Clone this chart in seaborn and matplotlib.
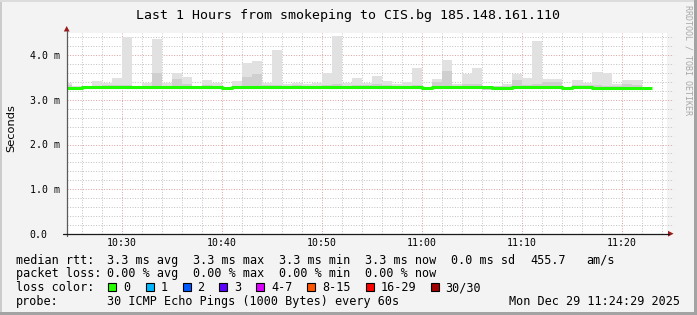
import matplotlib
matplotlib.use("Agg")
import matplotlib.pyplot as plt
import matplotlib.transforms as mtrans
from matplotlib.patches import Rectangle, Polygon
from matplotlib.lines import Line2D
import numpy as np
import pandas as pd
import seaborn as sns

# ---------------- data ----------------
# minutes after 10:00 (10:24 ... 11:22), one smoke bar per minute
minutes = list(range(24, 83))
smoke_max = [3.39, 3.32, 3.32, 3.42, 3.39, 3.49, 4.40, 3.32, 3.39, 4.36,
             3.39, 3.60, 3.51, 3.32, 3.44, 3.38, 3.29, 3.42, 3.82, 3.87,
             3.39, 4.13, 3.35, 3.38, 3.35, 3.39, 3.60, 4.43, 3.38, 3.48,
             3.38, 3.53, 3.42, 3.35, 3.40, 3.72, 3.30, 3.46, 3.89, 3.36,
             3.59, 3.72, 3.32, 3.32, 3.35, 3.59, 3.48, 4.31, 3.46, 3.46,
             3.29, 3.44, 3.38, 3.62, 3.60, 3.36, 3.44, 3.44, 3.30]
smoke_inner = [3.33, 3.30, 3.31, 3.32, 3.33, 3.33, 3.34, 3.30, 3.31, 3.60,
               3.31, 3.47, 3.36, 3.31, 3.33, 3.32, 3.28, 3.32, 3.52, 3.58,
               3.33, 3.34, 3.32, 3.33, 3.31, 3.32, 3.33, 3.36, 3.32, 3.34,
               3.33, 3.35, 3.33, 3.31, 3.32, 3.34, 3.30, 3.40, 3.64, 3.31,
               3.35, 3.36, 3.30, 3.31, 3.31, 3.45, 3.34, 3.35, 3.40, 3.40,
               3.28, 3.33, 3.34, 3.33, 3.32, 3.31, 3.36, 3.34, 3.29]
smoke_min = [3.24, 3.23, 3.24, 3.24, 3.24, 3.24, 3.24, 3.24, 3.24, 3.25,
             3.24, 3.25, 3.25, 3.24, 3.24, 3.24, 3.22, 3.24, 3.24, 3.24,
             3.24, 3.24, 3.24, 3.24, 3.24, 3.24, 3.25, 3.25, 3.24, 3.24,
             3.24, 3.24, 3.24, 3.24, 3.24, 3.24, 3.23, 3.24, 3.24, 3.24,
             3.24, 3.24, 3.23, 3.23, 3.24, 3.24, 3.24, 3.24, 3.24, 3.24,
             3.23, 3.24, 3.24, 3.24, 3.24, 3.23, 3.24, 3.24, 3.23]
median_rtt = [3.27, 3.27, 3.29, 3.29, 3.29, 3.29, 3.29, 3.28, 3.28, 3.30,
              3.28, 3.30, 3.30, 3.29, 3.29, 3.29, 3.26, 3.29, 3.28, 3.28,
              3.28, 3.29, 3.28, 3.28, 3.28, 3.29, 3.30, 3.30, 3.29, 3.28,
              3.28, 3.28, 3.28, 3.28, 3.28, 3.28, 3.27, 3.28, 3.28, 3.28,
              3.28, 3.28, 3.28, 3.27, 3.27, 3.28, 3.28, 3.28, 3.28, 3.28,
              3.27, 3.28, 3.28, 3.27, 3.27, 3.27, 3.27, 3.27, 3.27]

xtick_minutes = [30, 40, 50, 60, 70, 80]
xtick_labels = ["10:30", "10:40", "10:50", "11:00", "11:10", "11:20"]
ytick_values = [0, 1, 2, 3, 4]
ytick_labels = ["0.0", "1.0 m", "2.0 m", "3.0 m", "4.0 m"]

title = "Last 1 Hours from smokeping to CIS.bg 185.148.161.110"
ylabel = "Seconds"
row_rtt = ["median rtt:", "3.3 ms avg", "3.3 ms max", "3.3 ms min", "3.3 ms now",
           "0.0 ms sd", "455.7", "am/s"]
row_loss = ["packet loss:", "0.00 % avg", "0.00 % max", "0.00 % min", "0.00 % now"]
loss_labels = ["0", "1", "2", "3", "4-7", "8-15", "16-29", "30/30"]
loss_colors = ["#26ff00", "#00b8ff", "#0059ff", "#5e00ff", "#dd00ff",
               "#ff5500", "#ff0000", "#a10000"]
probe_text = "30 ICMP Echo Pings (1000 Bytes) every 60s"
stamp_text = "Mon Dec 29 11:24:29 2025"
watermark = "RRDTOOL / TOBI OETIKER"

# ---------------- figure ----------------
W, H = 697, 315
sns.set_style("white")
plt.rcParams["font.family"] = ["DejaVu Sans Mono", "DejaVu Sans"]
MONO = "DejaVu Sans Mono"

fig = plt.figure(figsize=(W / 100, H / 100), dpi=100)
fig.patch.set_facecolor("#f3f3f3")

ax_l, ax_r, ax_t, ax_b = 66.7, 666.7, 33.0, 233.7
ax = fig.add_axes([ax_l / W, (H - ax_b) / H, (ax_r - ax_l) / W, (ax_b - ax_t) / H])
ax.set_facecolor("white")
ax.set_xlim(24.5, 84.5)
ax.set_ylim(0, 4.5)
for s in ax.spines.values():
    s.set_visible(False)

# grid
minor_col, major_col = "#c4c4c4", "#dba3a3"
dash = (0, (1.0, 1.6))
ext = 6 / (ax_r - ax_l)
for m in range(26, 85, 2):
    c = major_col if m % 10 == 0 else minor_col
    ax.axvline(m, color=c, lw=0.72, ls=dash, zorder=1)
for k in range(1, 23):
    v = k * 0.2
    c = major_col if k % 5 == 0 else minor_col
    ax.axhline(v, xmin=0, xmax=1 + ext, color=c, lw=0.72, ls=dash, zorder=1,
               clip_on=False)

# smoke
ax.bar(minutes, np.array(smoke_max) - np.array(smoke_min), bottom=smoke_min,
       width=1.0, align="edge", color="#e1e1e1", linewidth=0, zorder=2)
ax.bar(minutes, np.array(smoke_inner) - np.array(smoke_min), bottom=smoke_min,
       width=1.0, align="edge", color="#cfcfcf", linewidth=0, zorder=3)

# median line
df = pd.DataFrame({"t": minutes + [minutes[-1] + 1],
                   "rtt": median_rtt + [median_rtt[-1]]})
sns.lineplot(data=df, x="t", y="rtt", ax=ax, estimator=None, color="#20ff00",
             lw=2.2, drawstyle="steps-post", solid_capstyle="butt", zorder=5)
ax.set_xlabel("")
ax.set_ylabel("")

# ticks
ax.set_xticks(xtick_minutes)
ax.set_xticks(list(range(26, 85, 2)), minor=True)
ax.set_yticks(ytick_values)
ax.set_yticks([k * 0.2 for k in range(1, 23)], minor=True)
ax.set_xticklabels([])
ax.set_yticklabels([])
ax.tick_params(axis="both", which="major", length=2.2, width=0.72,
               color="#c77070", direction="out")
ax.tick_params(axis="both", which="minor", length=1.5, width=0.72,
               color="#a8a8a8", direction="out")

# tick labels
tx = mtrans.blended_transform_factory(ax.transData, mtrans.IdentityTransform())
for m, lab in zip(xtick_minutes, xtick_labels):
    ax.text(m, H - 246.3, lab, transform=tx, ha="center", va="baseline",
            fontsize=7.1, family=MONO, color="black")
ty = mtrans.blended_transform_factory(mtrans.IdentityTransform(), ax.transData)
for v, lab in zip(ytick_values, ytick_labels):
    ax.text(29.8, v, lab, transform=ty, ha="left", va="center_baseline",
            fontsize=7.1, family=MONO, color="black")

# axes lines and arrows (pixel space)
ID = mtrans.IdentityTransform()
def P(x, y):
    return (x, H - y)
fig.add_artist(Line2D([66.7, 66.7], [H - 236.0, H - 30.5], transform=ID,
                      color="#5a5a5a", lw=0.9))
fig.add_artist(Polygon([P(63.8, 31.5), P(69.6, 31.5), P(66.7, 26.0)], closed=True,
                       transform=ID, color="#9a1c1c", lw=0))
fig.add_artist(Line2D([62.5, 668.5], [H - 233.7, H - 233.7], transform=ID,
                      color="#1a1a1a", lw=0.9))
fig.add_artist(Polygon([P(668.0, 230.8), P(668.0, 236.6), P(673.6, 233.7)],
                       closed=True, transform=ID, color="#9a1c1c", lw=0))

# titles
fig.text(347.5 / W, (H - 18.5) / H, title, ha="center", va="baseline",
         fontsize=9.55, family=MONO, color="black")
fig.text(11.5 / W, (H - 128) / H, ylabel, rotation=90, ha="center", va="center",
         fontsize=8.2, family="DejaVu Sans", color="black")
fig.text(688.3 / W, (H - 5) / H, watermark, rotation=270, ha="center", va="top",
         fontsize=6.0, family=MONO, color="#a8a8a8")

# legend rows
FS = 8.5
def T(x, yb, s, **kw):
    fig.text(x / W, (H - yb) / H, s, ha="left", va="baseline", fontsize=FS,
             family=MONO, color="black", **kw)

rtt_x = [16, 107.3, 193.3, 279.3, 365, 451, 530, 586]
for x, s in zip(rtt_x, row_rtt):
    T(x, 263.6, s)
loss_x = [16, 107.3, 193.3, 279.3, 365]
for x, s in zip(loss_x, row_loss):
    T(x, 277.4, s)
T(16, 291.2, "loss color:")
box_x = [108.4, 145.7, 182.7, 219.3, 256.3, 307.0, 365.7, 430.7]
lab_x = [123.3, 160.3, 197.3, 234.3, 271.0, 322.0, 380.7, 445.3]
for bx, lx, lab, col in zip(box_x, box_x, loss_labels, loss_colors):
    pass
for bx, lx, lab, col in zip(box_x, lab_x, loss_labels, loss_colors):
    fig.add_artist(Rectangle((bx, H - 291.0), 8.0, 8.4, transform=ID,
                             facecolor=col, edgecolor="black", lw=0.8))
    T(lx, 291.2, lab)
T(16, 305.0, "probe:")
T(107.3, 305.0, probe_text)
fig.text(680 / W, (H - 305.0) / H, stamp_text, ha="right", va="baseline",
         fontsize=FS, family=MONO, color="black")

# frame (3d border)
fig.add_artist(Rectangle((0, 0), 2, H, transform=ID, facecolor="#cbcbcb", lw=0))
fig.add_artist(Rectangle((0, H - 2), W, 2, transform=ID, facecolor="#dcdcdc", lw=0))
fig.add_artist(Rectangle((W - 3, 0), 3, H, transform=ID, facecolor="#a3a3a3", lw=0))
fig.add_artist(Rectangle((0, 0), W, 3, transform=ID, facecolor="#a3a3a3", lw=0))

fig.savefig("out.png", dpi=100, facecolor=fig.get_facecolor())
